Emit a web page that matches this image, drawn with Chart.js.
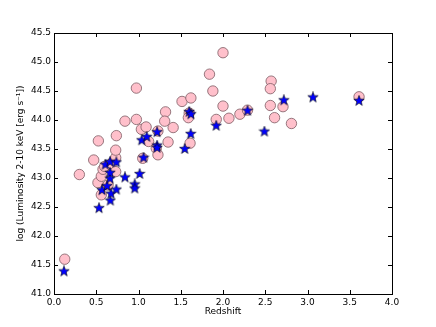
<!DOCTYPE html>
<html>
<head>
<meta charset="utf-8">
<script src="https://cdn.jsdelivr.net/npm/chart.js@4.4.1/dist/chart.umd.min.js"></script>
<style>
html, body { margin: 0; padding: 0; background: #fff; }
#wrap { width: 436px; height: 327px; }
</style>
</head>
<body>
<div id="wrap"><canvas id="scatter"></canvas></div>
<script>
// pink circles
var circleX = [0.127, 0.30, 0.47, 0.525, 0.52, 0.56, 0.56, 0.58, 0.64, 0.60, 0.68, 0.73, 0.73, 0.73, 0.738,
    0.84, 0.975, 0.975, 1.034, 1.09, 1.05, 1.12, 1.23, 1.21, 1.23, 1.32, 1.31, 1.35, 1.41, 1.515,
    1.62, 1.60, 1.59, 1.61, 1.84, 1.88, 2.00, 2.00, 1.92, 2.07, 2.20, 2.29, 2.57, 2.56, 2.56,
    2.71, 2.61, 2.81, 3.61];
var circleY = [41.60, 43.06, 43.31, 43.64, 42.92, 42.71, 43.03, 43.15, 42.88, 43.20, 43.25, 43.11, 43.35, 43.48, 43.73,
    43.98, 44.55, 44.01, 43.84, 43.88, 43.34, 43.63, 43.81, 43.51, 43.40, 44.14, 43.98, 43.62, 43.87, 44.32,
    44.38, 44.12, 44.04, 43.60, 44.79, 44.50, 45.16, 44.24, 44.01, 44.03, 44.10, 44.17, 44.67, 44.54, 44.25,
    44.23, 44.04, 43.94, 44.40];
// blue stars
var starX = [0.118, 0.533, 0.568, 0.627, 0.667, 0.675, 0.738, 0.663, 0.663, 0.608, 0.663, 0.738, 0.84, 0.955, 0.955,
    1.014, 1.06, 1.038, 1.097, 1.22, 1.22, 1.22, 1.547, 1.618, 1.60, 1.62, 1.92, 2.29, 2.49, 2.72,
    3.065, 3.61];
var starY = [41.39, 42.48, 42.79, 42.86, 42.61, 42.73, 42.80, 42.99, 43.09, 43.23, 43.28, 43.27, 43.01, 42.89, 42.82,
    43.07, 43.35, 43.65, 43.71, 43.79, 43.56, 43.52, 43.50, 43.76, 44.14, 44.10, 43.90, 44.16, 43.80, 44.34,
    44.39, 44.33];

var xTicks = [0.0, 0.5, 1.0, 1.5, 2.0, 2.5, 3.0, 3.5, 4.0];
var yTicks = [41.0, 41.5, 42.0, 42.5, 43.0, 43.5, 44.0, 44.5, 45.0, 45.5];

function toPoints(xs, ys) {
    var pts = [];
    for (var i = 0; i < xs.length; i++) pts.push({x: xs[i], y: ys[i]});
    return pts;
}

// filled five point star marker
function makeStar(size) {
    var c = document.createElement('canvas');
    c.width = size; c.height = size;
    var ctx = c.getContext('2d');
    var cx = size / 2, cy = size / 2, ro = size / 2 - 0.5, ri = ro * 0.42;
    ctx.beginPath();
    for (var i = 0; i < 10; i++) {
        var r = i % 2 == 0 ? ro : ri;
        var a = -Math.PI / 2 + i * Math.PI / 5;
        ctx.lineTo(cx + r * Math.cos(a), cy + r * Math.sin(a));
    }
    ctx.closePath();
    ctx.fillStyle = '#0000ff';
    ctx.fill();
    ctx.lineWidth = 0.6;
    ctx.strokeStyle = '#000000';
    ctx.stroke();
    return c;
}

// matplotlib style frame with inward ticks
var framePlugin = {
    id: 'frame',
    afterDatasetsDraw: function(chart) {
        var ctx = chart.ctx, a = chart.chartArea;
        var xs = chart.scales.x, ys = chart.scales.y;
        var len = 4;
        ctx.save();
        ctx.strokeStyle = '#000';
        ctx.lineWidth = 1;
        ctx.beginPath();
        xTicks.forEach(function(v) {
            var px = Math.round(xs.getPixelForValue(v)) + 0.5;
            ctx.moveTo(px, a.bottom); ctx.lineTo(px, a.bottom - len);
            ctx.moveTo(px, a.top); ctx.lineTo(px, a.top + len);
        });
        yTicks.forEach(function(v) {
            var py = Math.round(ys.getPixelForValue(v)) + 0.5;
            ctx.moveTo(a.left, py); ctx.lineTo(a.left + len, py);
            ctx.moveTo(a.right, py); ctx.lineTo(a.right - len, py);
        });
        ctx.stroke();
        ctx.strokeRect(Math.round(a.left) + 0.5, Math.round(a.top) + 0.5,
            Math.round(a.right - a.left), Math.round(a.bottom - a.top));
        ctx.restore();
    }
};

Chart.defaults.font.family = "'DejaVu Sans', sans-serif";
Chart.defaults.font.size = 9;
Chart.defaults.color = '#000';

var target = document.getElementById('scatter');
var myChart = new Chart(target, {
    type: 'scatter',
    data: {
        datasets: [
            {
                label: 'circles',
                data: toPoints(circleX, circleY),
                pointRadius: 5.2,
                pointBackgroundColor: '#ffc0cb',
                pointBorderColor: '#7d5c63',
                pointBorderWidth: 0.8,
                order: 2
            },
            {
                label: 'stars',
                data: toPoints(starX, starY),
                pointStyle: makeStar(12),
                order: 1
            }
        ]
    },
    options: {
        responsive: true,
        maintainAspectRatio: false,
        animation: false,
        events: [],
        layout: { padding: { top: 33, right: 44, left: 0, bottom: 0 } },
        plugins: { legend: { display: false }, tooltip: { enabled: false } },
        scales: {
            x: {
                type: 'linear',
                min: 0, max: 4,
                afterBuildTicks: function(scale) { scale.ticks = xTicks.map(function(v) { return {value: v}; }); },
                afterFit: function(scale) { scale.height = 33; },
                grid: { display: false, drawTicks: false },
                border: { display: false },
                ticks: { padding: 3, maxRotation: 0, callback: function(v) { return v.toFixed(1); } },
                title: { display: true, text: 'Redshift', padding: { top: 1, bottom: 10 } }
            },
            y: {
                type: 'linear',
                min: 41, max: 45.5,
                afterBuildTicks: function(scale) { scale.ticks = yTicks.map(function(v) { return {value: v}; }); },
                afterFit: function(scale) { scale.width = 54; },
                grid: { display: false, drawTicks: false },
                border: { display: false },
                ticks: { padding: 3, callback: function(v) { return v.toFixed(1); } },
                title: { display: true, text: 'log (Luminosity 2-10 keV [erg s\u207B\u00B9])', padding: { top: 15, bottom: 0 } }
            }
        }
    },
    plugins: [framePlugin]
});
</script>
</body>
</html>
